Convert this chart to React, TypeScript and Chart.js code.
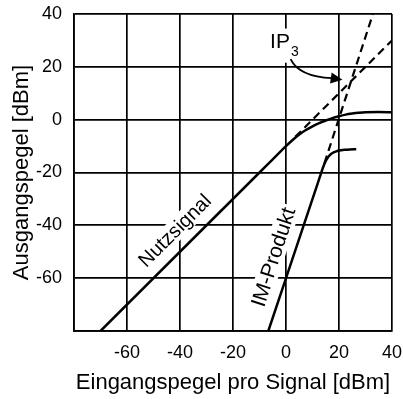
import React, { useEffect, useRef } from 'react';
import { Chart, registerables } from 'chart.js';

Chart.register(...registerables);

// Nutzsignal (wanted signal) output vs input
const nutzX = [-70, -10, -5, 0, 2.5, 5, 7.5, 10, 12.5, 15, 17.5, 20, 22.5, 25, 27.5, 30, 35, 40];
const nutzY = [-80, -20, -15, -10, -7.7, -5.6, -3.9, -2.5, -1.3, -0.3, 0.6, 1.3, 1.9, 2.3, 2.6, 2.8, 2.9, 2.8];
// IM-Produkt (3rd order intermod) output vs input
const imX = [-6.67, 12, 13, 14, 15, 16, 17, 18, 19, 20, 22, 24, 26.5];
const imY = [-80, -24, -21, -18, -15.6, -14, -13, -12.4, -12, -11.7, -11.4, -11.25, -11.2];
// Dashed extrapolations
const nutzExtX = [3.5, 40];
const nutzExtY = [-6.5, 30];
const imExtX = [14.5, 32.8];
const imExtY = [-16.5, 40];

const axisMin = -80;
const axisMax = 40;
const tickStep = 20;
const hiddenTick = -80;

const xTitle = 'Eingangspegel pro Signal [dBm]';
const yTitle = 'Ausgangspegel [dBm]';

const FONT = "'Liberation Sans', Arial, Helvetica, sans-serif";

const toPts = (xs: number[], ys: number[]) => xs.map((x, i) => ({ x, y: ys[i] }));

const annotationPlugin = {
  id: 'annotations',
  beforeDatasetsDraw(chart: any) {
    const ctx = chart.ctx as CanvasRenderingContext2D;
    const xs = chart.scales.x;
    const ys = chart.scales.y;
    const px = (v: number) => xs.getPixelForValue(v);
    const py = (v: number) => ys.getPixelForValue(v);

    const rotatedLabel = (text: string, x: number, y: number, angle: number, size: number) => {
      ctx.save();
      ctx.translate(px(x), py(y));
      ctx.rotate((-angle * Math.PI) / 180);
      ctx.font = `${size}px ${FONT}`;
      const w = ctx.measureText(text).width;
      const h = size * 0.95;
      ctx.fillStyle = '#fff';
      ctx.fillRect(-w / 2 - 3, -h / 2 - 1, w + 6, h + 2);
      ctx.fillStyle = '#000';
      ctx.textAlign = 'center';
      ctx.textBaseline = 'middle';
      ctx.fillText(text, 0, 1);
      ctx.restore();
    };

    rotatedLabel('Nutzsignal', -42, -42, 45, 20);
    rotatedLabel('IM-Produkt', -4.8, -52, 72, 21);

    // IP3 label
    ctx.save();
    const ipX = px(-6.0);
    const ipY = py(27.3);
    const subX = px(1.9);
    const subY = py(24.2);
    ctx.fillStyle = '#fff';
    ctx.fillRect(ipX - 3, ipY - 19, subX + 12 - ipX, subY - ipY + 26);
    ctx.fillStyle = '#000';
    ctx.textBaseline = 'alphabetic';
    ctx.textAlign = 'left';
    ctx.font = `21px ${FONT}`;
    ctx.fillText('IP', ipX, ipY);
    ctx.font = `14px ${FONT}`;
    ctx.fillText('3', subX, subY);
    ctx.restore();
  },
  afterDatasetsDraw(chart: any) {
    const ctx = chart.ctx as CanvasRenderingContext2D;
    const xs = chart.scales.x;
    const ys = chart.scales.y;
    const px = (v: number) => xs.getPixelForValue(v);
    const py = (v: number) => ys.getPixelForValue(v);
    // curved arrow pointing to IP3
    const sx = px(1.74), sy = py(22.9);
    const cx = px(5.0), cy = py(16.2);
    const ex = px(17.3), ey = py(15.7);
    const tx = px(21.3), ty = py(15.1);
    ctx.save();
    ctx.strokeStyle = '#000';
    ctx.lineWidth = 1.8;
    ctx.beginPath();
    ctx.moveTo(sx, sy);
    ctx.quadraticCurveTo(cx, cy, ex, ey);
    ctx.stroke();
    const ang = Math.atan2(ty - ey, tx - ex);
    const len = Math.hypot(tx - ex, ty - ey) + 1;
    const half = 5.5;
    const bx = tx - Math.cos(ang) * len;
    const by = ty - Math.sin(ang) * len;
    ctx.fillStyle = '#000';
    ctx.beginPath();
    ctx.moveTo(tx, ty);
    ctx.lineTo(bx + Math.sin(ang) * half, by - Math.cos(ang) * half);
    ctx.lineTo(bx - Math.sin(ang) * half, by + Math.cos(ang) * half);
    ctx.closePath();
    ctx.fill();
    ctx.restore();
  },
};

export default function App() {
  const canvasRef = useRef<HTMLCanvasElement | null>(null);

  useEffect(() => {
    if (!canvasRef.current) return;
    const solid = { borderColor: '#000', borderWidth: 2.5, pointRadius: 0, showLine: true, fill: false, cubicInterpolationMode: 'monotone' };
    const dashed = { borderColor: '#000', borderWidth: 2.2, pointRadius: 0, showLine: true, fill: false, borderDash: [8, 5] };
    const tickCb = (v: any) => (Number(v) === hiddenTick ? '' : String(v));
    const chart = new Chart(canvasRef.current, {
      type: 'scatter',
      data: {
        datasets: [
          { ...solid, label: 'Nutzsignal', data: toPts(nutzX, nutzY) },
          { ...solid, label: 'IM-Produkt', data: toPts(imX, imY) },
          { ...dashed, label: 'Nutzsignal ext', data: toPts(nutzExtX, nutzExtY) },
          { ...dashed, label: 'IM ext', data: toPts(imExtX, imExtY) },
        ] as any,
      },
      options: {
        animation: false,
        responsive: true,
        maintainAspectRatio: false,
        layout: { padding: { left: 0, right: 11, top: 14, bottom: 0 } },
        plugins: { legend: { display: false }, tooltip: { enabled: false } },
        scales: {
          x: {
            type: 'linear',
            min: axisMin,
            max: axisMax,
            afterFit: (s: any) => { s.height = 68; s.paddingLeft = 0; s.paddingRight = 0; },
            ticks: { stepSize: tickStep, callback: tickCb, color: '#000', padding: 11, font: { family: FONT, size: 18 }, maxRotation: 0 },
            grid: { color: '#000', lineWidth: 1.7, drawTicks: false },
            border: { color: '#000', width: 1.7 },
            title: { display: true, text: xTitle, color: '#000', font: { family: FONT, size: 22 }, padding: { top: 0, bottom: 3 } },
          },
          y: {
            type: 'linear',
            min: axisMin,
            max: axisMax,
            afterFit: (s: any) => { s.width = 74; s.paddingTop = 0; s.paddingBottom = 0; },
            ticks: { stepSize: tickStep, callback: tickCb, color: '#000', padding: 12, font: { family: FONT, size: 18 } },
            grid: { color: '#000', lineWidth: 1.7, drawTicks: false },
            border: { color: '#000', width: 1.7 },
            title: { display: true, text: yTitle, color: '#000', font: { family: FONT, size: 22 }, padding: { top: 9, bottom: 0 } },
          },
        },
      } as any,
      plugins: [annotationPlugin],
    });
    return () => chart.destroy();
  }, []);

  return (
    <div style={{ position: 'absolute', left: 0, top: 0, width: 403, height: 399, background: '#fff' }}>
      <canvas ref={canvasRef} />
    </div>
  );
}
